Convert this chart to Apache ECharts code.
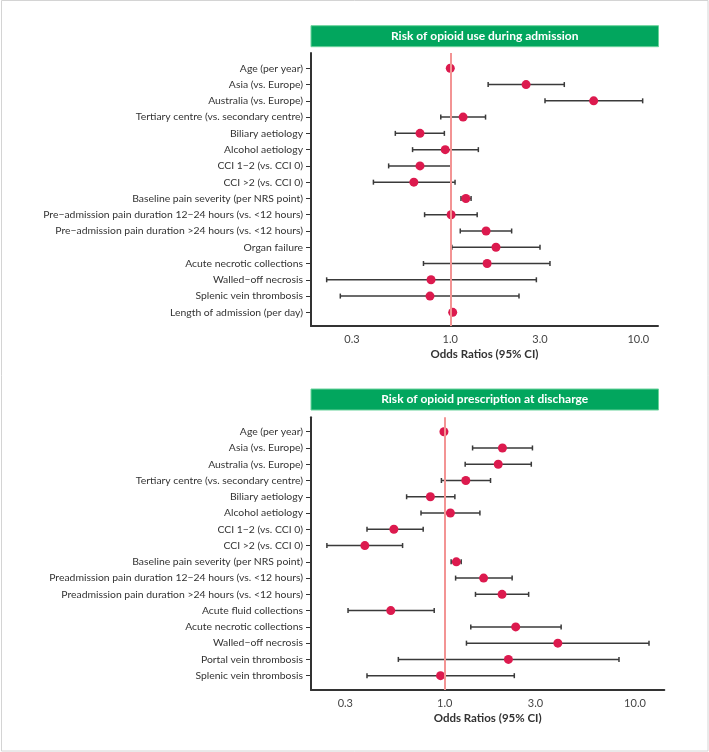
<!DOCTYPE html>
<html><head><meta charset="utf-8">
<script src="https://cdn.jsdelivr.net/npm/echarts@6/dist/echarts.min.js"></script>
<style>html,body{margin:0;padding:0;background:#fff}#c{width:709px;height:752px}</style>
</head><body><div id="c"></div>
<script>
// ---- data ----
const title1 = 'Risk of opioid use during admission';
const title2 = 'Risk of opioid prescription at discharge';
const xTitle = 'Odds Ratios (95% CI)';
const tickValues = [0.3, 1.0, 3.0, 10.0];

const categories1 = [
  'Age (per year)', 'Asia (vs. Europe)', 'Australia (vs. Europe)',
  'Tertiary centre (vs. secondary centre)', 'Biliary aetiology', 'Alcohol aetiology',
  'CCI 1\u22122 (vs. CCI 0)', 'CCI >2 (vs. CCI 0)', 'Baseline pain severity (per NRS point)',
  'Pre\u2212admission pain duration 12\u221224 hours (vs. <12 hours)',
  'Pre\u2212admission pain duration >24 hours (vs. <12 hours)',
  'Organ failure', 'Acute necrotic collections', 'Walled\u2212off necrosis',
  'Splenic vein thrombosis', 'Length of admission (per day)'
];
const or1 = [1.00, 2.53, 5.79, 1.17, 0.69, 0.94, 0.69, 0.64, 1.21, 1.01, 1.55, 1.75, 1.57, 0.79, 0.78, 1.03];
const lo1 = [0.99, 1.59, 3.19, 0.89, 0.51, 0.63, 0.47, 0.39, 1.14, 0.73, 1.13, 1.02, 0.72, 0.22, 0.26, 1.005];
const hi1 = [1.01, 4.04, 10.55, 1.54, 0.93, 1.41, 1.01, 1.06, 1.29, 1.39, 2.12, 3.00, 3.39, 2.87, 2.32, 1.06];

const categories2 = [
  'Age (per year)', 'Asia (vs. Europe)', 'Australia (vs. Europe)',
  'Tertiary centre (vs. secondary centre)', 'Biliary aetiology', 'Alcohol aetiology',
  'CCI 1\u22122 (vs. CCI 0)', 'CCI >2 (vs. CCI 0)', 'Baseline pain severity (per NRS point)',
  'Preadmission pain duration 12\u221224 hours (vs. <12 hours)',
  'Preadmission pain duration >24 hours (vs. <12 hours)',
  'Acute fluid collections', 'Acute necrotic collections', 'Walled\u2212off necrosis',
  'Portal vein thrombosis', 'Splenic vein thrombosis'
];
const or2 = [0.99, 2.01, 1.91, 1.29, 0.84, 1.07, 0.54, 0.38, 1.15, 1.60, 2.00, 0.52, 2.36, 3.93, 2.16, 0.95];
const lo2 = [0.985, 1.40, 1.28, 0.96, 0.63, 0.75, 0.39, 0.24, 1.08, 1.14, 1.45, 0.31, 1.37, 1.30, 0.57, 0.39];
const hi2 = [1.00, 2.89, 2.85, 1.74, 1.13, 1.53, 0.77, 0.60, 1.22, 2.26, 2.76, 0.88, 4.09, 11.85, 8.24, 2.32];

// ---- chart ----
const FONT = 'Lato';
const lg = Math.log10;
const idx = n => Array.from({length: n}, (_, i) => i);

function xAxisCfg(g, min, max) {
  return {
    type: 'value', gridIndex: g, min: lg(min), max: lg(max),
    splitLine: {show: false},
    axisLine: {show: true, onZero: false, lineStyle: {color: '#333', width: 2}},
    axisTick: {show: false},
    axisLabel: {customValues: tickValues.map(lg), formatter: v => Math.pow(10, v).toFixed(1),
      color: '#444', fontSize: 11, fontFamily: FONT, margin: 8},
    name: xTitle, nameLocation: 'middle', nameGap: 22,
    nameTextStyle: {color: '#333', fontSize: 11.5, fontWeight: 'bold', fontFamily: FONT}
  };
}
function yAxisCfg(g, cats, min, max) {
  return {
    type: 'value', gridIndex: g, inverse: true, min: min, max: max,
    splitLine: {show: false},
    axisLine: {show: true, onZero: false, lineStyle: {color: '#333', width: 2}},
    axisTick: {show: true, length: 5, customValues: idx(cats.length), lineStyle: {color: '#333', width: 1}},
    axisLabel: {customValues: idx(cats.length), formatter: v => cats[v],
      color: '#333', fontSize: 10.4, fontFamily: FONT, margin: 8}
  };
}
function errSeries(g, lo, hi) {
  return {
    type: 'custom', xAxisIndex: g, yAxisIndex: g, z: 3, silent: true,
    data: lo.map((l, i) => [lg(l), lg(hi[i]), i]),
    encode: {x: [0, 1], y: 2},
    renderItem: (params, api) => {
      const a = api.coord([api.value(0), api.value(2)]);
      const b = api.coord([api.value(1), api.value(2)]);
      const h = 2.5;
      const style = {stroke: '#3a3a3a', lineWidth: 1.5};
      return {type: 'group', children: [
        {type: 'line', shape: {x1: a[0], y1: a[1], x2: b[0], y2: b[1]}, style: style},
        {type: 'line', shape: {x1: a[0], y1: a[1] - h, x2: a[0], y2: a[1] + h}, style: style},
        {type: 'line', shape: {x1: b[0], y1: b[1] - h, x2: b[0], y2: b[1] + h}, style: style}
      ]};
    }
  };
}
function dotSeries(g, or) {
  return {
    type: 'scatter', xAxisIndex: g, yAxisIndex: g, z: 4, silent: true,
    symbolSize: 9,
    itemStyle: {color: '#DC1A4E', opacity: 1},
    data: or.map((v, i) => [lg(v), i])
  };
}
function refSeries(g) {
  return {
    type: 'scatter', xAxisIndex: g, yAxisIndex: g, z: 2, data: [], silent: true,
    markLine: {silent: true, symbol: 'none', label: {show: false},
      lineStyle: {color: '#F39494', width: 2, type: 'solid'},
      data: [{xAxis: 0}]}
  };
}
function titleBar(y, text) {
  return {type: 'group', children: [
    {type: 'rect', shape: {x: 311, y: y, width: 347.5, height: 21},
      style: {fill: '#02A65E', stroke: '#6ad39c', lineWidth: 1}},
    {type: 'text', x: 484.7, y: y + 10.5, style: {text: text, fill: '#fff', font: 'bold 12px ' + FONT,
      align: 'center', verticalAlign: 'middle'}}
  ]};
}

const chart = echarts.init(document.getElementById('c'), null, {renderer: 'canvas'});
chart.setOption({
  backgroundColor: '#fff',
  animation: false,
  grid: [
    {left: 311, top: 53, width: 347, height: 273},
    {left: 311, top: 417.3, width: 353.3, height: 272.7}
  ],
  xAxis: [xAxisCfg(0, 0.1816, 12.73), xAxisCfg(1, 0.198, 14.26)],
  yAxis: [yAxisCfg(0, categories1, -0.94, 15.84), yAxisCfg(1, categories2, -0.885, 15.88)],
  series: [
    refSeries(0), errSeries(0, lo1, hi1), dotSeries(0, or1),
    refSeries(1), errSeries(1, lo2, hi2), dotSeries(1, or2)
  ],
  graphic: [
    {type: 'rect', shape: {x: 1.5, y: 0.5, width: 706.5, height: 750.5},
      style: {fill: 'none', stroke: '#d4d4d4', lineWidth: 1}, silent: true},
    titleBar(25.7, title1),
    titleBar(389, title2)
  ]
});
</script></body></html>
